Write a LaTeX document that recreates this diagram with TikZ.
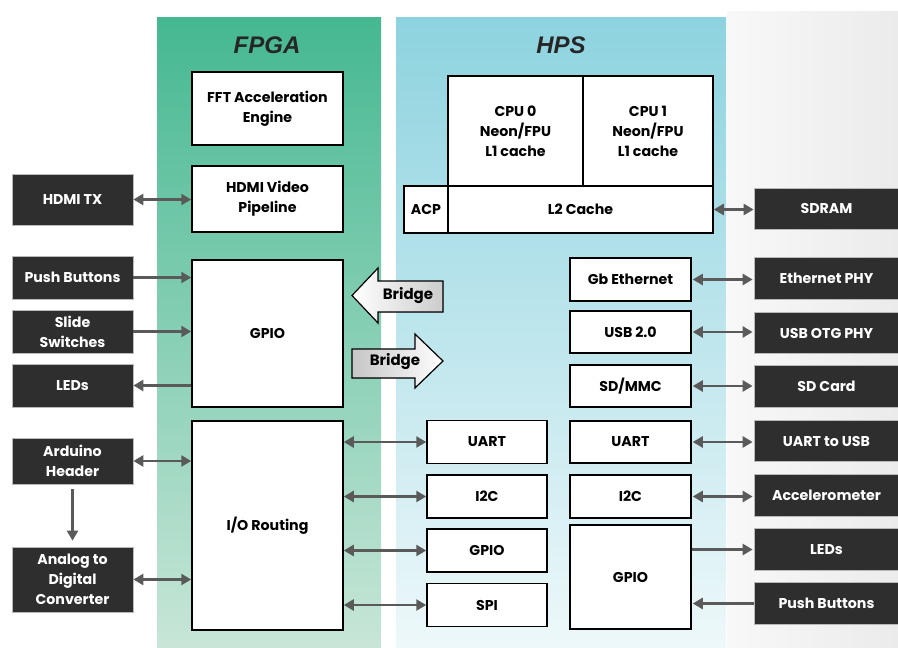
\documentclass[tikz,border=0pt]{standalone}
\usepackage{fontspec}
\setmainfont{Poppins}
\newfontfamily\titlefont{Liberation Sans}
\usetikzlibrary{arrows.meta,calc}

\definecolor{fpgatop}{HTML}{45B891}
\definecolor{fpgabot}{HTML}{C8E6D8}
\definecolor{hpstop}{HTML}{8DD3DF}
\definecolor{hpsbot}{HTML}{EEF8FA}
\definecolor{sidel}{HTML}{F8F8F8}
\definecolor{sider}{HTML}{EBEBEB}
\definecolor{darkbox}{HTML}{2E2E2E}
\definecolor{wire}{HTML}{5A5A5A}
\definecolor{titletext}{HTML}{262626}

\begin{document}
\begin{tikzpicture}[
    x=1pt, y=-1pt,
    blk/.style={draw=black, line width=1.5pt, fill=white, inner sep=0pt, align=center,
        font=\fontsize{14.2}{20}\selectfont\bfseries},
    dark/.style={draw=gray!55, line width=0.7pt, fill=darkbox, text=white, inner sep=0pt,
        align=center, font=\fontsize{14.2}{20}\selectfont\bfseries},
    title/.style={font=\titlefont\fontsize{24}{26}\selectfont\bfseries\itshape, text=titletext},
    link/.style={draw=wire, line width=2.8pt, -{Triangle[length=10pt,width=11pt]}},
    both/.style={draw=wire, line width=2.8pt, {Triangle[length=10pt,width=11pt]}-{Triangle[length=10pt,width=11pt]}},
    bridgetext/.style={font=\fontsize{15}{16}\selectfont\bfseries, inner sep=0pt},
]
\useasboundingbox (0,0) rectangle (898,648);

% panels
\shade[left color=sidel, right color=sider] (727,11) rectangle (898,648);
\shade[top color=fpgatop, bottom color=fpgabot] (157,17) rectangle (381,648);
\shade[top color=hpstop, bottom color=hpsbot] (396,17) rectangle (726,648);
\node[title] (fpgatitle) at (267,45) {FPGA};
\node[title] (hpstitle) at (561,45) {HPS};

% FPGA side
\def\fw{151}
\node[blk, minimum width=\fw, minimum height=73] (fft) at (267.5,108.5) {FFT Acceleration\\Engine};
\node[blk, minimum width=\fw, minimum height=66] (hdmi) at (267.5,199) {HDMI Video\\Pipeline};
\node[blk, minimum width=\fw, minimum height=147] (gpiof) at (267.5,333.5) {GPIO};
\node[blk, minimum width=\fw, minimum height=209] (iort) at (267.5,525.5) {I/O Routing};

% board peripherals, left
\foreach \name/\y/\h/\txt in {
    hdmitx/199.5/51/HDMI TX,
    pushl/277.5/43/Push Buttons,
    slide/331.5/43/Slide\\Switches,
    ledsl/385.5/43/LEDs,
    arduino/461/46/Arduino\\Header,
    adc/579.5/65/Analog to\\Digital\\Converter} {
    \node[dark, minimum width=121, minimum height=\h] (\name) at (72.5,\y) {\txt};
}

% processor
\node[blk, minimum width=135, minimum height=110] (cpu0) at (515.5,131) {CPU 0\\Neon/FPU\\L1 cache};
\node[blk, minimum width=130, minimum height=110] (cpu1) at (648,131) {CPU 1\\Neon/FPU\\L1 cache};
\node[blk, minimum width=265, minimum height=47] (ltwo) at (580.5,209.5) {L2 Cache};
\node[blk, minimum width=44, minimum height=47] (acp) at (426,209.5) {ACP};

% HPS peripherals, inner column
\foreach \name/\y/\txt in {uartm/442/UART, i2cm/496.5/I2C, gpiom/550.5/GPIO, spim/605/SPI} {
    \node[blk, minimum width=120, minimum height=43] (\name) at (487,\y) {\txt};
}

% HPS peripherals, outer column
\foreach \name/\y/\h/\txt in {
    gbe/279.5/43/Gb Ethernet,
    usbh/332/42/USB 2.0,
    sdmmc/386/42/{SD/MMC},
    uartr/442/42/UART,
    i2cr/496.5/43/I2C,
    gpior/577/104/GPIO} {
    \node[blk, minimum width=121, minimum height=\h] (\name) at (630.5,\y) {\txt};
}

% board peripherals, right
\node[dark, minimum width=145, minimum height=41] (sdram) at (826.5,208.5) {SDRAM};
\foreach \name/\y/\txt in {
    eth/278.5/Ethernet PHY,
    otg/333/USB OTG PHY,
    sdc/386.5/SD Card,
    usbser/441/UART to USB,
    accel/495.5/Accelerometer,
    ledsr/549.5/LEDs,
    pushr/603.5/Push Buttons} {
    \node[dark, minimum width=145, minimum height=41.5] (\name) at (826.5,\y) {\txt};
}

% bridges
\filldraw[draw=black, line width=1.2pt, left color=white, right color=gray!40]
    (352,295.5) -- (378,268) -- (378,281) -- (443,281) -- (443,312) -- (378,312) -- (378,323) -- cycle;
\node[bridgetext] (hpstofpga) at (408,296) {Bridge};
\filldraw[draw=black, line width=1.2pt, left color=gray!45, right color=white]
    (443,361) -- (415,334) -- (415,349) -- (352,349) -- (352,378) -- (415,378) -- (415,388) -- cycle;
\node[bridgetext] (fpgatohps) at (395,362) {Bridge};

% connectors
\draw[both] (hdmitx.east) -- (hdmitx.east -| hdmi.west);
\draw[link] (pushl.east) -- (pushl.east -| gpiof.west);
\draw[link] (slide.east) -- (slide.east -| gpiof.west);
\draw[link] (ledsl.east -| gpiof.west) -- (ledsl.east);
\draw[both] (arduino.east) -- (arduino.east -| iort.west);
\draw[both] (adc.east) -- (adc.east -| iort.west);
\draw[link, shorten <=5pt, shorten >=6pt] (arduino) -- (adc);
\foreach \p in {uartm, i2cm, gpiom, spim} {
    \draw[both] (\p.west -| iort.east) -- (\p.west);
}
\draw[both] (ltwo.east) -- (ltwo.east -| sdram.west);
\foreach \a/\b in {gbe/eth, usbh/otg, sdmmc/sdc, uartr/usbser, i2cr/accel} {
    \draw[both, shorten <=1pt, shorten >=1pt] (\a.east) -- (\a.east -| \b.west);
}
\draw[link, shorten >=1pt] (ledsr.west -| gpior.east) -- (ledsr.west);
\draw[link, shorten >=1pt] (pushr.west) -- (pushr.west -| gpior.east);
\end{tikzpicture}
\end{document}
